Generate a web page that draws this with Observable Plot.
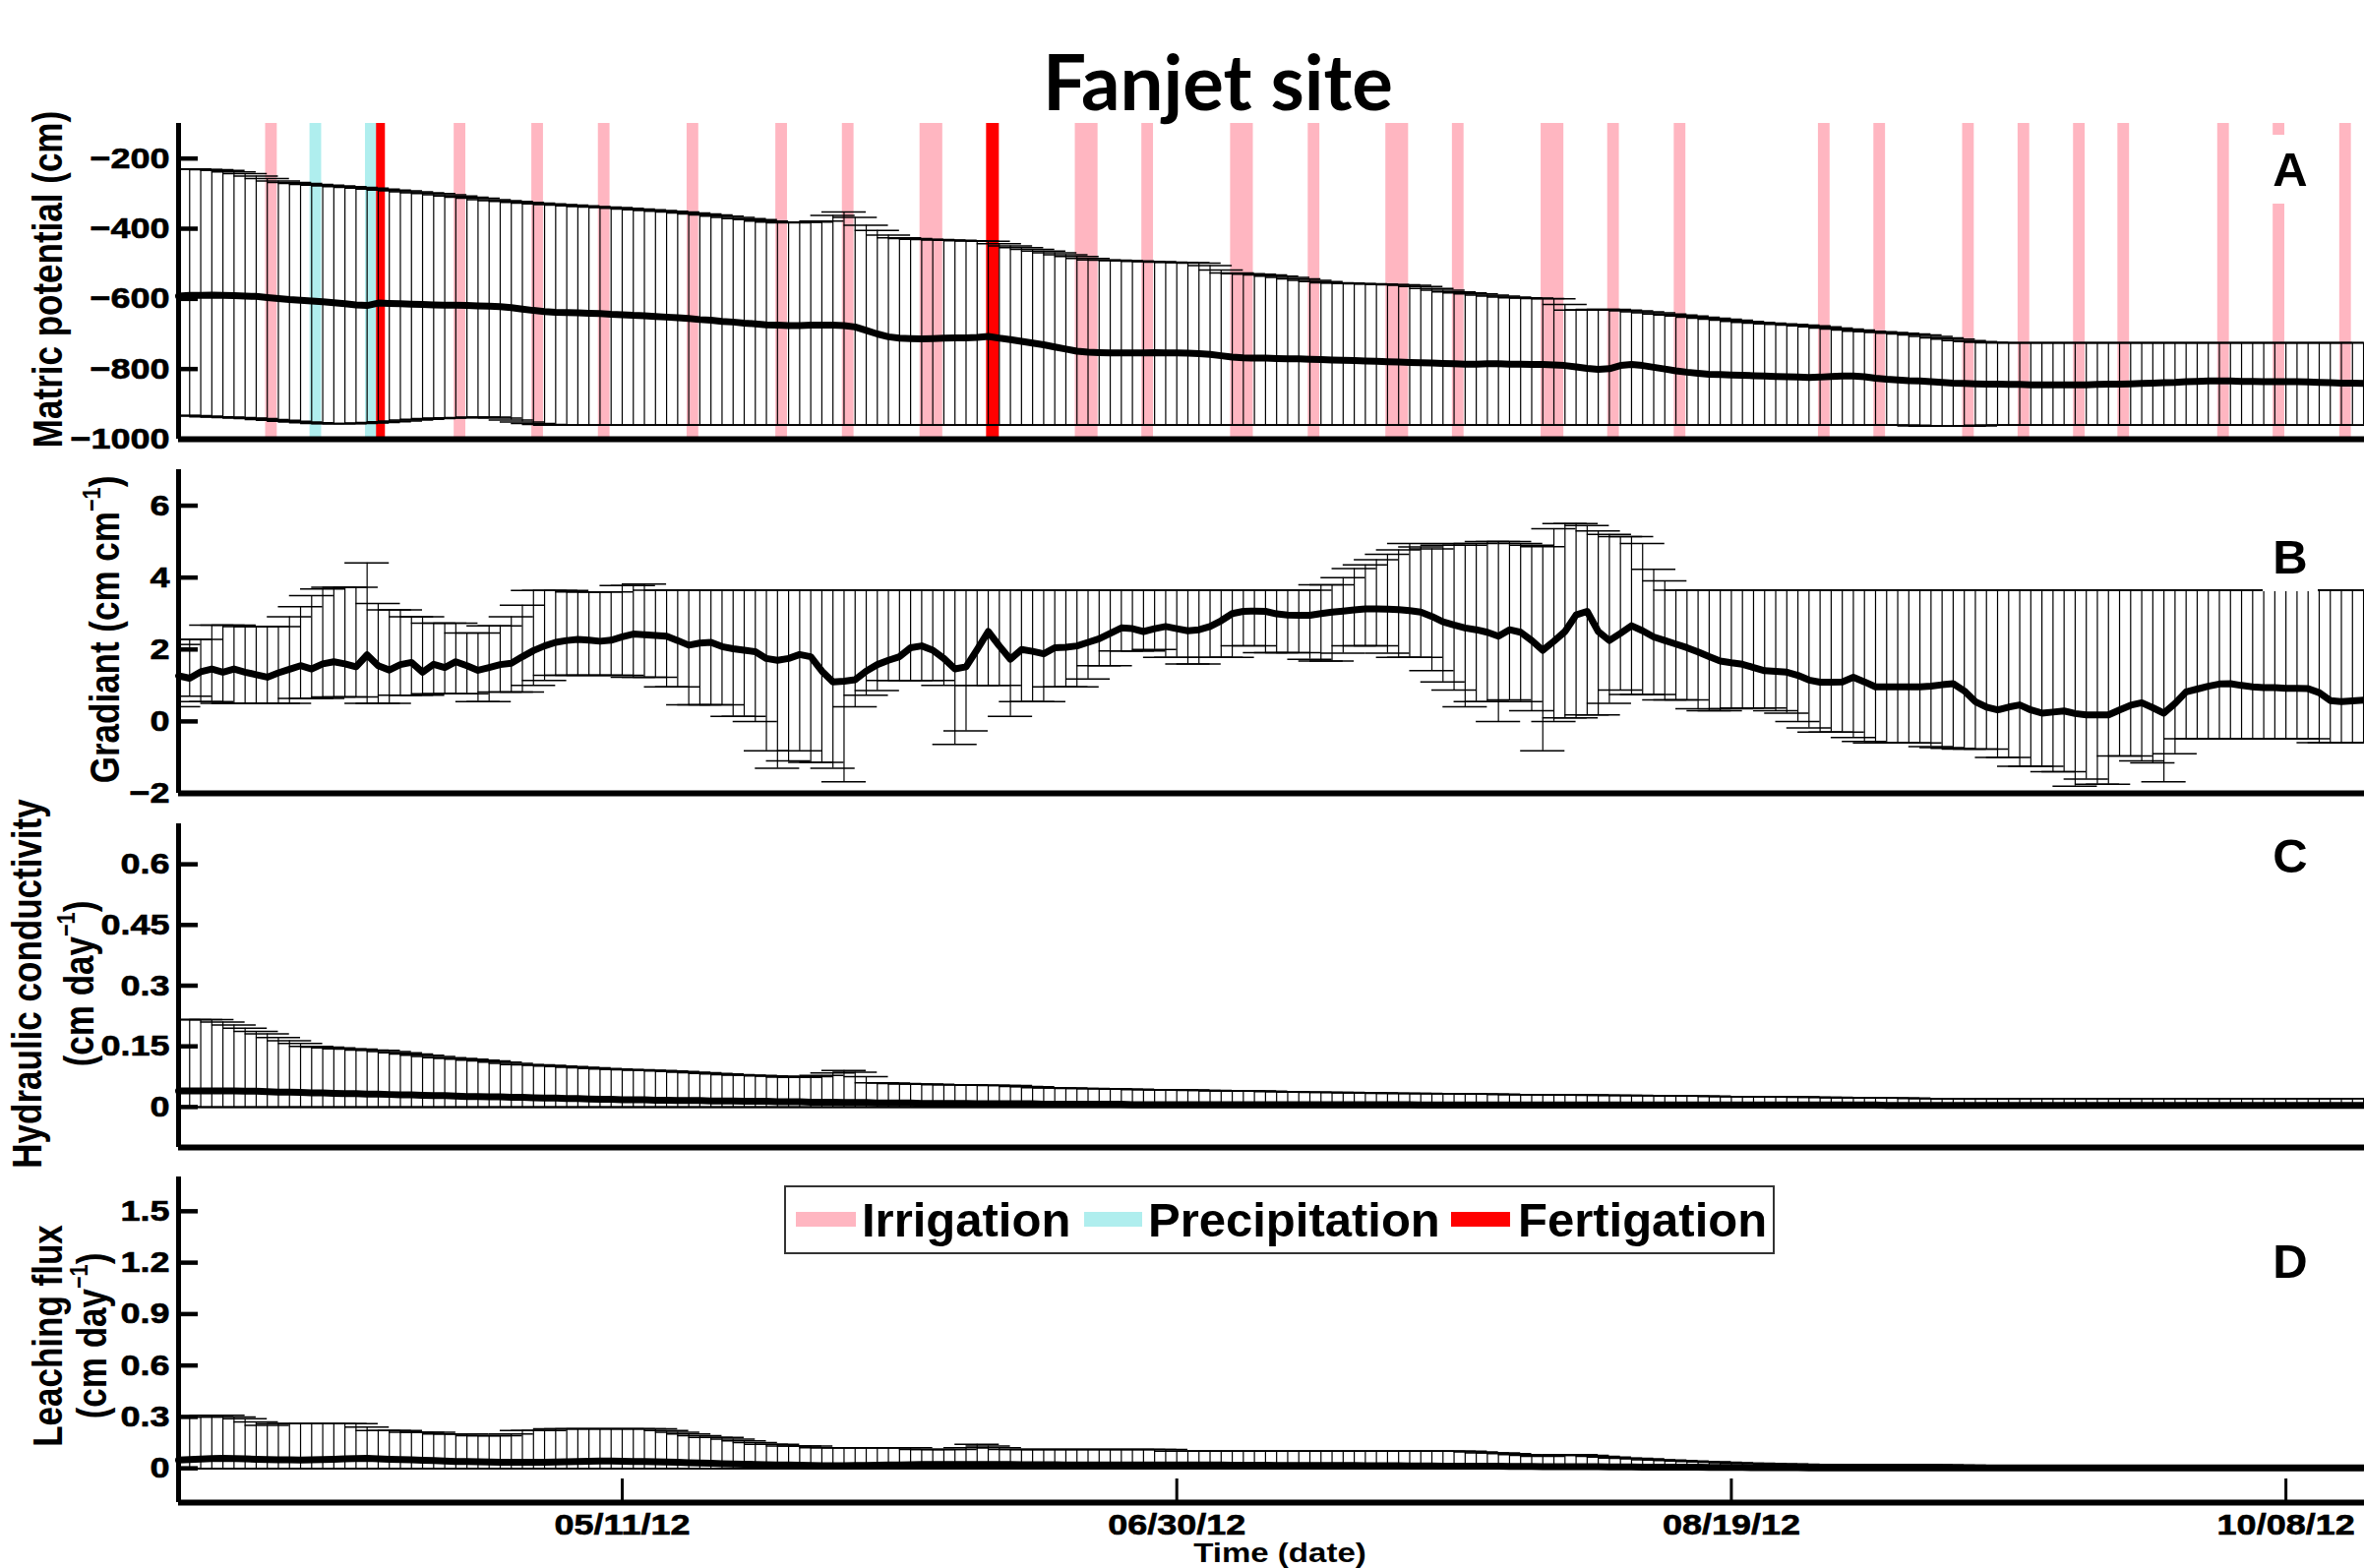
<!DOCTYPE html>
<html><head><meta charset="utf-8">
<script src="https://cdn.jsdelivr.net/npm/d3@7"></script>
<script src="https://cdn.jsdelivr.net/npm/@observablehq/plot@0.6"></script>
<style>
html,body{margin:0;padding:0;background:#fff;overflow:hidden;}
#root{position:relative;width:2403px;height:1594px;overflow:hidden;background:#fff;font-family:'Liberation Sans',Arial,sans-serif;font-weight:bold;color:#000;}
.abs{position:absolute;white-space:nowrap;line-height:1;}
.ylab{position:absolute;white-space:nowrap;line-height:1;font-size:35px;transform:translate(-50%,-50%) rotate(-90deg) scale(1,1.22);}
.ylab sup{font-size:0.62em;line-height:0;vertical-align:0.72em;}
.letter{position:absolute;width:56px;height:70px;line-height:70px;text-align:center;font-size:49px;background:#fff;transform:translate(-50%,-50%);}
#legend{position:absolute;left:797px;top:1205px;width:1007px;height:70px;box-sizing:border-box;border:2.5px solid #333;background:#fff;}
#legend .sw{position:absolute;height:15px;top:25px;}
#legend .lt{position:absolute;top:9px;font-size:49px;line-height:1;white-space:nowrap;}
</style></head><body><div id="root"></div>
<script>
// ---------------- DATA (daily values from 2012-04-01) ----------------
const startDate = "2012-04-01";
const xTickLabels = ["2012-05-11", "2012-06-30", "2012-08-19", "2012-10-08"];
const aTicks = [-1000, -800, -600, -400, -200];
const bTicks = [-2, 0, 2, 4, 6];
const cTicks = [0, 0.15, 0.3, 0.45, 0.6];
const dTicks = [0, 0.3, 0.6, 0.9, 1.2, 1.5];

// Panel A: matric potential (cm)
const aMean = [
-592,-590,-590,-589,-590,-591,-592,-593,-596,-599,
-602,-604,-606,-608,-611,-614,-617,-619,-612,-613,
-614,-615,-616,-617,-618,-618,-619,-620,-621,-622,
-625,-629,-633,-636,-638,-639,-640,-641,-642,-644,
-645,-647,-648,-650,-652,-654,-656,-659,-661,-664,
-666,-669,-671,-674,-675,-676,-676,-675,-675,-675,
-676,-680,-690,-700,-708,-712,-713,-714,-713,-712,
-711,-711,-710,-707,-712,-716,-721,-726,-731,-737,
-743,-749,-752,-753,-754,-754,-754,-754,-753,-754,
-754,-755,-756,-758,-762,-766,-768,-769,-769,-770,
-771,-771,-772,-773,-774,-775,-776,-777,-778,-779,
-780,-781,-782,-783,-784,-785,-786,-786,-785,-785,
-786,-786,-787,-787,-788,-790,-794,-798,-801,-799,
-790,-787,-790,-795,-800,-805,-809,-812,-815,-816,
-817,-818,-819,-820,-821,-822,-823,-824,-823,-821,
-820,-820,-822,-826,-829,-831,-833,-834,-836,-838,
-840,-841,-842,-843,-843,-844,-844,-845,-845,-845,
-845,-845,-845,-844,-843,-843,-842,-841,-840,-839,
-838,-836,-835,-834,-834,-834,-835,-835,-836,-836,
-836,-836,-837,-838,-839,-840,-840,-841];
const aHi = [
-230,-230,-231,-232,-234,-238,-243,-250,-257,-264,
-268,-271,-274,-276,-278,-280,-282,-284,-287,-290,
-292,-295,-298,-300,-303,-307,-310,-313,-317,-320,
-322,-325,-327,-329,-331,-333,-335,-337,-338,-340,
-342,-344,-346,-348,-350,-352,-355,-358,-361,-364,
-368,-371,-374,-378,-381,-383,-382,-381,-378,-362,
-352,-368,-390,-405,-418,-426,-428,-430,-431,-432,
-433,-434,-435,-436,-443,-449,-454,-459,-464,-469,
-474,-479,-485,-489,-490,-491,-492,-493,-494,-495,
-496,-497,-498,-505,-518,-526,-528,-530,-532,-535,
-539,-543,-547,-551,-554,-555,-556,-557,-558,-559,
-560,-561,-565,-570,-575,-580,-583,-586,-589,-592,
-595,-597,-598,-599,-600,-616,-632,-631,-630,-630,
-632,-634,-637,-640,-643,-646,-649,-652,-655,-658,
-661,-664,-667,-669,-671,-673,-675,-677,-680,-683,
-686,-689,-692,-694,-696,-698,-700,-703,-707,-711,
-715,-719,-722,-724,-725,-725,-725,-725,-725,-725,
-725,-725,-725,-725,-725,-725,-725,-725,-725,-725,
-725,-725,-725,-725,-725,-725,-725,-725,-725,-725,
-725,-725,-725,-725,-725,-725,-725,-725];
const aLo = [
-932,-933,-934,-936,-937,-938,-940,-941,-944,-946,
-949,-951,-953,-955,-956,-956,-955,-954,-952,-950,
-948,-945,-943,-941,-940,-939,-938,-937,-937,-940,
-945,-951,-955,-958,-960,-960,-960,-960,-960,-960,
-960,-960,-960,-960,-960,-960,-960,-960,-960,-960,
-960,-960,-960,-960,-960,-960,-960,-960,-960,-960,
-960,-960,-960,-960,-960,-960,-960,-960,-960,-960,
-960,-960,-960,-960,-960,-960,-960,-960,-960,-960,
-960,-960,-960,-960,-960,-960,-960,-960,-960,-960,
-960,-960,-960,-960,-960,-960,-960,-960,-960,-960,
-960,-960,-960,-960,-960,-960,-960,-960,-960,-960,
-960,-960,-960,-960,-960,-960,-960,-960,-960,-960,
-960,-960,-960,-960,-960,-960,-960,-960,-960,-960,
-960,-960,-960,-960,-960,-960,-960,-960,-960,-960,
-960,-960,-960,-960,-960,-960,-960,-960,-960,-960,
-960,-960,-960,-960,-960,-960,-960,-962,-963,-963,
-963,-963,-962,-960,-960,-960,-960,-960,-960,-960,
-960,-960,-960,-960,-960,-960,-960,-960,-960,-960,
-960,-960,-960,-960,-960,-960,-960,-960,-960,-960,
-960,-960,-960,-960,-960,-960,-960,-960];

// Panel B: gradient (cm cm-1)
const bMean = [
1.27,1.2,1.38,1.46,1.37,1.46,1.37,1.3,1.23,1.35,
1.45,1.55,1.46,1.6,1.66,1.6,1.52,1.85,1.55,1.43,
1.58,1.64,1.37,1.59,1.5,1.66,1.55,1.42,1.5,1.58,
1.62,1.8,1.97,2.1,2.2,2.25,2.28,2.26,2.23,2.26,
2.35,2.43,2.41,2.39,2.37,2.25,2.12,2.18,2.2,2.08,
2.02,1.98,1.94,1.75,1.7,1.75,1.86,1.8,1.4,1.1,
1.12,1.16,1.4,1.58,1.7,1.8,2.05,2.1,1.98,1.75,
1.46,1.52,2.0,2.5,2.1,1.73,2.0,1.95,1.88,2.05,
2.06,2.1,2.2,2.3,2.45,2.6,2.58,2.5,2.58,2.64,
2.58,2.52,2.55,2.64,2.8,3.0,3.06,3.07,3.06,2.99,
2.96,2.95,2.95,3.0,3.04,3.07,3.1,3.13,3.13,3.12,
3.11,3.08,3.04,2.92,2.77,2.68,2.6,2.55,2.48,2.37,
2.55,2.48,2.25,1.98,2.23,2.5,2.96,3.06,2.5,2.25,
2.45,2.66,2.52,2.35,2.25,2.15,2.05,1.93,1.8,1.68,
1.63,1.59,1.5,1.41,1.39,1.37,1.28,1.15,1.09,1.09,
1.1,1.23,1.1,0.96,0.96,0.96,0.96,0.96,0.98,1.02,
1.05,0.85,0.55,0.4,0.32,0.4,0.46,0.32,0.23,0.26,
0.29,0.22,0.18,0.18,0.18,0.32,0.45,0.52,0.38,0.23,
0.5,0.82,0.9,0.98,1.04,1.05,1.0,0.96,0.94,0.94,
0.92,0.92,0.91,0.8,0.58,0.55,0.57,0.59];
const bHi = [
2.14,2.28,2.28,2.68,2.68,2.68,2.64,2.64,2.64,2.64,
2.91,3.19,3.5,3.68,3.73,3.73,3.73,4.41,3.28,3.1,
3.1,2.91,2.91,2.73,2.73,2.73,2.46,2.46,2.66,2.66,
2.91,3.23,3.64,3.64,3.64,3.64,3.6,3.6,3.6,3.6,
3.78,3.78,3.82,3.65,3.65,3.65,3.65,3.65,3.65,3.65,
3.65,3.65,3.65,3.65,3.65,3.65,3.65,3.65,3.65,3.65,
3.65,3.65,3.65,3.65,3.65,3.65,3.65,3.65,3.65,3.65,
3.65,3.65,3.65,3.65,3.65,3.65,3.65,3.65,3.65,3.65,
3.65,3.65,3.65,3.65,3.65,3.65,3.65,3.65,3.65,3.65,
3.65,3.65,3.65,3.65,3.65,3.65,3.65,3.65,3.65,3.65,
3.65,3.65,3.65,3.8,3.8,4.0,4.25,4.35,4.5,4.65,
4.77,4.95,4.85,4.8,4.9,4.95,4.9,4.95,5.0,5.0,
5.0,4.95,4.9,4.86,5.36,5.5,5.5,5.45,5.3,5.2,
5.14,5.14,4.95,4.23,3.91,3.65,3.65,3.65,3.65,3.65,
3.65,3.65,3.65,3.65,3.65,3.65,3.65,3.65,3.65,3.65,
3.65,3.65,3.65,3.65,3.65,3.65,3.65,3.65,3.65,3.65,
3.65,3.65,3.65,3.65,3.65,3.65,3.65,3.65,3.65,3.65,
3.65,3.65,3.65,3.65,3.65,3.65,3.65,3.65,3.65,3.65,
3.65,3.65,3.65,3.65,3.65,3.65,3.65,3.65,3.65,3.65,
3.65,3.65,3.65,3.65,3.65,3.65,3.65,3.65];
const bLo = [
0.41,0.7,0.55,0.55,0.5,0.5,0.5,0.5,0.5,0.5,
0.5,0.64,0.64,0.64,0.68,0.68,0.68,0.5,0.5,0.5,
0.73,0.73,0.73,0.77,0.77,0.77,0.77,0.55,0.55,0.82,
0.82,0.82,1.0,1.14,1.28,1.28,1.28,1.28,1.28,1.28,
1.28,1.23,1.23,1.23,0.96,0.96,0.46,0.46,0.46,0.46,
0.14,0.14,0.0,-0.82,-1.3,-1.1,-0.82,-1.14,-1.14,-1.3,
-1.68,0.41,0.73,0.86,1.14,1.14,1.14,1.14,1.14,1.0,
-0.64,-0.26,1.0,1.0,1.0,0.14,0.55,0.55,0.55,0.96,
0.96,0.96,1.18,1.55,1.55,1.96,1.96,1.96,2.0,1.78,
1.78,1.6,1.6,1.78,1.78,1.78,2.1,2.1,1.91,1.91,
1.91,1.91,1.73,1.68,1.68,1.9,2.1,2.1,2.1,1.9,
1.78,1.78,1.78,1.41,1.1,0.87,0.41,0.55,0.55,0.0,
0.6,0.55,0.3,-0.82,0.0,0.1,0.1,0.18,0.18,0.5,
0.87,0.75,0.75,0.75,0.6,0.6,0.6,0.35,0.3,0.3,
0.35,0.37,0.37,0.37,0.3,0.23,0.0,-0.18,-0.3,-0.3,
-0.3,-0.45,-0.56,-0.6,-0.6,-0.6,-0.6,-0.6,-0.7,-0.73,
-0.75,-0.77,-0.77,-0.77,-1.0,-1.0,-1.25,-1.25,-1.25,-1.4,
-1.4,-1.8,-1.6,-1.75,-1.75,-0.96,-0.96,-1.1,-1.15,-1.68,
-0.9,-0.48,-0.48,-0.48,-0.48,-0.48,-0.48,-0.48,-0.48,-0.48,
-0.48,-0.48,-0.48,-0.59,-0.59,-0.59,-0.59,-0.59];

// Panel C: hydraulic conductivity (cm day-1)
const cMean = [
0.04,0.04,0.04,0.04,0.04,0.04,0.039,0.039,0.038,0.037,
0.037,0.036,0.035,0.035,0.034,0.033,0.033,0.032,0.032,0.031,
0.03,0.03,0.029,0.028,0.028,0.027,0.026,0.026,0.025,0.025,
0.024,0.024,0.023,0.022,0.022,0.021,0.021,0.02,0.019,0.019,
0.018,0.018,0.018,0.017,0.017,0.016,0.016,0.016,0.015,0.015,
0.015,0.014,0.014,0.014,0.013,0.013,0.013,0.012,0.012,0.012,
0.011,0.011,0.011,0.01,0.01,0.01,0.01,0.009,0.009,0.009,
0.009,0.009,0.008,0.008,0.008,0.008,0.008,0.008,0.007,0.007,
0.007,0.007,0.007,0.007,0.007,0.007,0.006,0.006,0.006,0.006,
0.006,0.006,0.006,0.006,0.006,0.006,0.006,0.006,0.006,0.006,
0.006,0.006,0.006,0.006,0.006,0.006,0.006,0.006,0.006,0.006,
0.006,0.006,0.005,0.005,0.005,0.005,0.005,0.005,0.005,0.005,
0.005,0.005,0.005,0.005,0.005,0.005,0.005,0.005,0.005,0.005,
0.005,0.005,0.005,0.005,0.005,0.005,0.005,0.005,0.005,0.005,
0.005,0.005,0.005,0.005,0.005,0.005,0.005,0.005,0.005,0.005,
0.005,0.005,0.005,0.005,0.004,0.004,0.004,0.004,0.004,0.004,
0.004,0.004,0.004,0.004,0.004,0.004,0.004,0.004,0.004,0.004,
0.004,0.004,0.004,0.004,0.004,0.004,0.004,0.004,0.004,0.004,
0.004,0.004,0.004,0.004,0.004,0.004,0.004,0.004,0.004,0.004,
0.004,0.004,0.004,0.004,0.004,0.004,0.004,0.004];
const cHi = [
0.216,0.216,0.216,0.216,0.21,0.203,0.195,0.187,0.181,0.172,
0.164,0.157,0.15,0.148,0.146,0.144,0.143,0.141,0.14,0.137,
0.134,0.131,0.128,0.125,0.122,0.12,0.118,0.116,0.114,0.111,
0.108,0.105,0.104,0.103,0.101,0.1,0.098,0.097,0.095,0.094,
0.093,0.092,0.091,0.09,0.089,0.088,0.086,0.085,0.083,0.082,
0.08,0.079,0.078,0.077,0.076,0.074,0.073,0.075,0.078,0.084,
0.09,0.086,0.075,0.06,0.059,0.058,0.057,0.057,0.056,0.055,
0.055,0.055,0.054,0.054,0.053,0.053,0.051,0.05,0.048,0.047,
0.047,0.046,0.046,0.045,0.045,0.044,0.044,0.043,0.043,0.042,
0.042,0.042,0.041,0.041,0.04,0.04,0.04,0.04,0.039,0.038,
0.038,0.037,0.037,0.036,0.036,0.036,0.035,0.035,0.035,0.034,
0.034,0.034,0.034,0.033,0.033,0.033,0.033,0.032,0.032,0.032,
0.031,0.031,0.031,0.031,0.03,0.03,0.03,0.03,0.029,0.029,
0.029,0.029,0.028,0.028,0.028,0.027,0.027,0.027,0.027,0.026,
0.026,0.026,0.026,0.025,0.025,0.025,0.025,0.024,0.024,0.024,
0.023,0.023,0.023,0.022,0.022,0.022,0.022,0.021,0.021,0.021,
0.02,0.02,0.02,0.02,0.021,0.021,0.021,0.021,0.021,0.021,
0.021,0.021,0.021,0.021,0.021,0.021,0.021,0.021,0.021,0.021,
0.021,0.021,0.021,0.021,0.021,0.021,0.021,0.021,0.021,0.021,
0.021,0.021,0.021,0.021,0.021,0.021,0.021,0.021];
const cLo = [
0,0,0,0,0,0,0,0,0,0, 0,0,0,0,0,0,0,0,0,0, 0,0,0,0,0,0,0,0,0,0, 0,0,0,0,0,0,0,0,0,0,
0,0,0,0,0,0,0,0,0,0, 0,0,0,0,0,0,0,0,0,0, 0,0,0,0,0,0,0,0,0,0, 0,0,0,0,0,0,0,0,0,0,
0,0,0,0,0,0,0,0,0,0, 0,0,0,0,0,0,0,0,0,0, 0,0,0,0,0,0,0,0,0,0, 0,0,0,0,0,0,0,0,0,0,
0,0,0,0,0,0,0,0,0,0, 0,0,0,0,0,0,0,0,0,0, 0,0,0,0,0,0,0,0,0,0, 0,0,0,0,0,0,0,0,0,0,
0,0,0,0,0,0,0,0,0,0, 0,0,0,0,0,0,0,0,0,0, 0,0,0,0,0,0,0,0,0,0, 0,0,0,0,0,0,0,0];

// Panel D: leaching flux (cm day-1)
const dMean = [
0.048,0.051,0.054,0.057,0.058,0.057,0.055,0.053,0.051,0.05,
0.049,0.048,0.049,0.051,0.053,0.055,0.057,0.058,0.056,0.053,
0.051,0.049,0.047,0.045,0.042,0.04,0.039,0.038,0.037,0.036,
0.036,0.035,0.035,0.036,0.037,0.038,0.039,0.041,0.042,0.042,
0.041,0.04,0.039,0.038,0.037,0.035,0.033,0.031,0.029,0.027,
0.025,0.024,0.023,0.021,0.02,0.019,0.018,0.016,0.015,0.015,
0.015,0.016,0.017,0.018,0.019,0.02,0.021,0.022,0.022,0.023,
0.023,0.023,0.023,0.022,0.022,0.022,0.021,0.021,0.021,0.021,
0.02,0.02,0.02,0.02,0.02,0.02,0.02,0.02,0.02,0.02,
0.02,0.019,0.019,0.019,0.019,0.018,0.018,0.018,0.018,0.017,
0.017,0.017,0.017,0.016,0.016,0.016,0.016,0.015,0.015,0.015,
0.015,0.014,0.014,0.014,0.013,0.013,0.013,0.012,0.012,0.012,
0.011,0.011,0.011,0.01,0.01,0.01,0.009,0.009,0.009,0.008,
0.008,0.008,0.007,0.007,0.007,0.006,0.006,0.006,0.005,0.005,
0.005,0.005,0.004,0.004,0.004,0.004,0.004,0.003,0.003,0.003,
0.003,0.003,0.003,0.003,0.003,0.003,0.003,0.003,0.003,0.003,
0.003,0.003,0.003,0.003,0.003,0.003,0.003,0.003,0.003,0.003,
0.003,0.003,0.003,0.003,0.003,0.003,0.003,0.003,0.003,0.003,
0.003,0.003,0.003,0.003,0.003,0.003,0.003,0.003,0.003,0.003,
0.003,0.003,0.003,0.003,0.003,0.003,0.003,0.003];
const dHi = [
0.3,0.3,0.3,0.31,0.31,0.3,0.29,0.27,0.25,0.26,
0.26,0.26,0.26,0.26,0.26,0.26,0.26,0.24,0.22,0.22,
0.22,0.21,0.21,0.21,0.2,0.2,0.2,0.19,0.19,0.19,
0.2,0.22,0.22,0.22,0.23,0.23,0.23,0.23,0.23,0.23,
0.23,0.23,0.23,0.23,0.22,0.21,0.2,0.19,0.18,0.18,
0.17,0.16,0.15,0.14,0.14,0.13,0.13,0.13,0.12,0.12,
0.12,0.12,0.12,0.12,0.12,0.12,0.12,0.11,0.11,0.11,
0.11,0.12,0.14,0.13,0.12,0.11,0.11,0.11,0.11,0.11,
0.11,0.11,0.11,0.11,0.11,0.11,0.11,0.11,0.11,0.11,
0.1,0.1,0.1,0.1,0.1,0.1,0.1,0.1,0.1,0.1,
0.1,0.1,0.1,0.1,0.1,0.1,0.1,0.1,0.1,0.1,
0.1,0.1,0.1,0.1,0.1,0.1,0.1,0.095,0.09,0.09,
0.085,0.08,0.075,0.07,0.075,0.08,0.08,0.075,0.07,0.065,
0.06,0.058,0.055,0.05,0.048,0.045,0.042,0.04,0.038,0.035,
0.033,0.03,0.03,0.028,0.026,0.025,0.024,0.022,0.021,0.02,
0.02,0.02,0.02,0.02,0.02,0.02,0.02,0.02,0.02,0.02,
0.018,0.018,0.017,0.017,0.016,0.016,0.016,0.015,0.015,0.015,
0.015,0.015,0.015,0.015,0.015,0.015,0.015,0.015,0.015,0.015,
0.015,0.015,0.015,0.015,0.015,0.015,0.015,0.015,0.015,0.015,
0.015,0.015,0.015,0.015,0.015,0.015,0.015,0.015];
const dLo = [
0,0,0,0,0,0,0,0,0,0, 0,0,0,0,0,0,0,0,0,0, 0,0,0,0,0,0,0,0,0,0, 0,0,0,0,0,0,0,0,0,0,
0,0,0,0,0,0,0,0,0,0, 0,0,0,0,0,0,0,0,0,0, 0,0,0,0,0,0,0,0,0,0, 0,0,0,0,0,0,0,0,0,0,
0,0,0,0,0,0,0,0,0,0, 0,0,0,0,0,0,0,0,0,0, 0,0,0,0,0,0,0,0,0,0, 0,0,0,0,0,0,0,0,0,0,
0,0,0,0,0,0,0,0,0,0, 0,0,0,0,0,0,0,0,0,0, 0,0,0,0,0,0,0,0,0,0, 0,0,0,0,0,0,0,0,0,0,
0,0,0,0,0,0,0,0,0,0, 0,0,0,0,0,0,0,0,0,0, 0,0,0,0,0,0,0,0,0,0, 0,0,0,0,0,0,0,0];

// Events (start date, duration in days)
const irrigationDates = ["2012-04-09","2012-04-26","2012-05-03","2012-05-09","2012-05-17","2012-05-25","2012-05-31","2012-06-07","2012-06-21","2012-06-27","2012-07-05","2012-07-12","2012-07-19","2012-07-25","2012-08-02","2012-08-08","2012-08-14","2012-08-27","2012-09-01","2012-09-09","2012-09-14","2012-09-19","2012-09-23","2012-10-02","2012-10-07","2012-10-13"];
const irrigationDays  = [1,1,1,1,1,1,1,2,2,1,2,1,2,1,2,1,1,1,1,1,1,1,1,1,1,1];
const precipitationDates = ["2012-04-13","2012-04-18"];
const precipitationDays  = [1,1];
const fertigationDates = ["2012-04-19","2012-06-13"];
const fertigationDays  = [0.75,1.1];

const legendLabels = ["Irrigation", "Precipitation", "Fertigation"];
const eventColors = ["#FFB6C1", "#AFEEEE", "#FF0000"];

// ---------------- RENDER ----------------
const root = document.getElementById("root");
const parse = d3.timeParse("%Y-%m-%d");
const W = 2403, ML = 181, MT = 10;
const x0 = parse(startDate);
const xEnd = new Date(2012, 9, 15, 2);
const DAY = 864e5;
const shift = (dt, n) => new Date(+dt + n * DAY);
const clampX = dt => dt < x0 ? x0 : (dt > xEnd ? xEnd : dt);
const dates = aMean.map((_, i) => d3.timeDay.offset(x0, i));
const xTickDates = xTickLabels.map(parse);
const capHalf = 2;
const fmtNum = d => d < 0 ? "\u2212" + String(Math.abs(d)) : String(d);

function seriesMarks(mean, lo, hi) {
  const rows = dates.map((date, i) => ({date, mean: mean[i], lo: lo[i], hi: hi[i]}));
  const cx1 = d => clampX(shift(d.date, -capHalf));
  const cx2 = d => clampX(shift(d.date, capHalf));
  return [
    Plot.ruleX(rows, {x: "date", y1: "lo", y2: "hi", stroke: "#000", strokeWidth: 1.2}),
    Plot.ruleY(rows, {y: "hi", x1: cx1, x2: cx2, stroke: "#000", strokeWidth: 1.5}),
    Plot.ruleY(rows, {y: "lo", x1: cx1, x2: cx2, stroke: "#000", strokeWidth: 1.5}),
    Plot.line(rows, {x: "date", y: "mean", stroke: "#000", strokeWidth: 7, strokeLinejoin: "round"})
  ];
}

function eventMarks(ds, durs, color) {
  const ev = ds.map((s, i) => ({start: parse(s), dur: durs[i]}));
  return Plot.rect(ev, {x1: d => shift(d.start, -0.15), x2: d => shift(d.start, d.dur - 0.1), fill: color});
}

function panel({top, height, mb, domain, ticks, marks, xAxis}) {
  const plotH = height - MT - mb;
  const axisMarks = [
    Plot.ruleX([x0], {stroke: "#000", strokeWidth: 5}),
    Plot.ruleY([domain[0]], {stroke: "#000", strokeWidth: 6}),
    Plot.gridY(ticks, {stroke: "#000", strokeOpacity: 1, strokeWidth: 4.5, insetRight: W - ML - 20}),
    Plot.axisY(ticks, {tickSize: 0, tickPadding: 9, tickFormat: fmtNum, label: null, fontSize: 30, fontWeight: "bold"})
  ];
  if (xAxis) {
    axisMarks.push(
      Plot.gridX(xTickDates, {stroke: "#000", strokeOpacity: 1, strokeWidth: 3, insetTop: plotH - 24}),
      Plot.axisX(xTickDates, {tickSize: 0, tickPadding: 11, tickFormat: d3.timeFormat("%m/%d/%y"), label: null, fontSize: 30, fontWeight: "bold"})
    );
  }
  const svg = Plot.plot({
    width: W, height, marginLeft: ML, marginRight: 0, marginTop: MT, marginBottom: mb,
    x: xAxis ? {type: "time", domain: [x0, xEnd]} : {type: "time", domain: [x0, xEnd], axis: null},
    y: {domain},
    style: {fontFamily: "'Liberation Sans', Arial, sans-serif", fontSize: "30px", fontWeight: "bold", color: "#000", background: "transparent"},
    marks: [...marks, ...axisMarks]
  });
  svg.querySelectorAll('g[aria-label$="tick label"] text').forEach(t => {
    const tr = t.getAttribute("transform");
    if (tr) t.setAttribute("transform", tr + " scale(1.2,1)");
    else {
      const x = parseFloat(t.getAttribute("x")) || 0, y = parseFloat(t.getAttribute("y")) || 0;
      t.removeAttribute("x"); t.removeAttribute("y");
      t.setAttribute("transform", `translate(${x},${y}) scale(1.2,1)`);
    }
    t.style.stroke = "#000";
    t.style.strokeWidth = "0.6px";
  });
  svg.style.position = "absolute";
  svg.style.left = "0px";
  svg.style.top = top + "px";
  root.appendChild(svg);
}

panel({top: 115, height: 351, mb: 20, domain: [-1000, -100], ticks: aTicks, marks: [
  eventMarks(irrigationDates, irrigationDays, eventColors[0]),
  eventMarks(precipitationDates, precipitationDays, eventColors[1]),
  eventMarks(fertigationDates, fertigationDays, eventColors[2]),
  ...seriesMarks(aMean, aLo, aHi)
]});
panel({top: 467, height: 359, mb: 20, domain: [-2, 7], ticks: bTicks, marks: seriesMarks(bMean, bLo, bHi)});
panel({top: 827, height: 359, mb: 20, domain: [-0.1, 0.7], ticks: cTicks, marks: seriesMarks(cMean, cLo, cHi)});
panel({top: 1186, height: 408, mb: 67, domain: [-0.2, 1.7], ticks: dTicks, marks: seriesMarks(dMean, dLo, dHi), xAxis: true});

// ---------------- TEXT OVERLAYS ----------------
function add(html, cls, style) {
  const el = document.createElement("div");
  el.className = cls; el.innerHTML = html;
  Object.assign(el.style, style);
  root.appendChild(el);
  return el;
}
add("Fanjet site", "abs", {left: "1238px", top: "43px", fontFamily: "Lato, 'Open Sans', sans-serif", fontSize: "78px", fontWeight: "bold", transform: "translateX(-50%)"});
add("Matric potential (cm)", "ylab", {left: "48px", top: "284px"});
add("Gradiant (cm cm<sup>\u22121</sup>)", "ylab", {left: "106px", top: "640px"});
add("Hydraulic conductivity", "ylab", {left: "27px", top: "1000px"});
add("(cm day<sup>\u22121</sup>)", "ylab", {left: "80px", top: "1000px"});
add("Leaching flux", "ylab", {left: "48px", top: "1358px"});
add("(cm day<sup>\u22121</sup>)", "ylab", {left: "93px", top: "1358px"});
add("Time (date)", "abs", {left: "1301px", top: "1565px", fontSize: "28px", transform: "translateX(-50%) scaleX(1.18)"});
[["A", 172], ["B", 566], ["C", 870], ["D", 1282]].forEach(([t, y]) => add(t, "letter", {left: "2328px", top: y + "px"}));

const legend = document.createElement("div");
legend.id = "legend";
root.appendChild(legend);
const swX = [10, 303, 676], swW = [61, 59, 60], txX = [77, 368, 744];
legendLabels.forEach((lab, i) => {
  const sw = document.createElement("div");
  sw.className = "sw";
  Object.assign(sw.style, {left: swX[i] + "px", width: swW[i] + "px", background: eventColors[i]});
  legend.appendChild(sw);
  const tx = document.createElement("div");
  tx.className = "lt"; tx.textContent = lab;
  tx.style.left = txX[i] + "px";
  legend.appendChild(tx);
});
</script></body></html>
